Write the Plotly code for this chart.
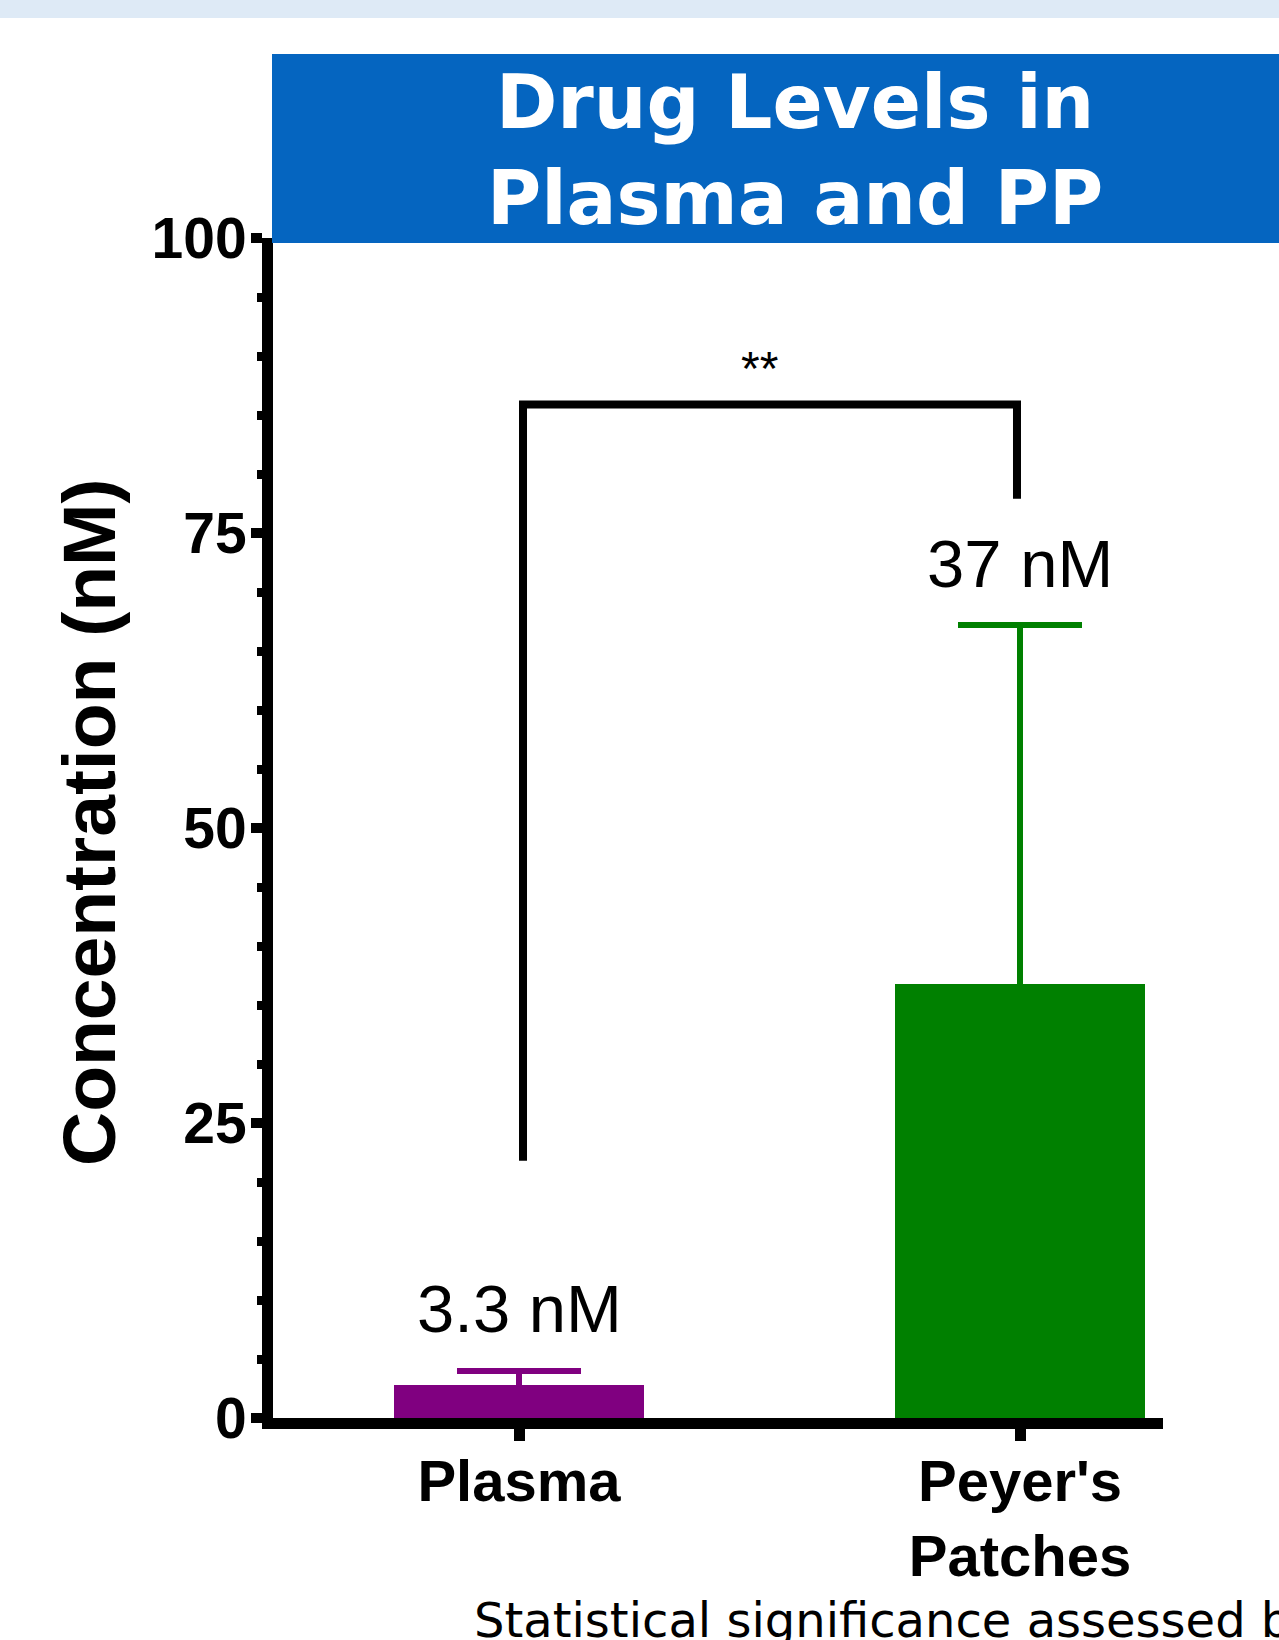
import plotly.graph_objects as go

# ---------------- data ----------------
categories = ["Plasma", "Peyer's<br>Patches"]
cat_pos = [0, 1]
conc_mean = [2.8, 36.8]          # nM (bar heights)
conc_err_up = [1.2, 30.4]        # upper error (SD)
bar_colors = ["#800080", "#008000"]
bar_labels = ["3.3 nM", "37 nM"]
label_y = [9.3, 72.4]

sig_text = "**"
sig_x = [0.008, 0.994]           # bracket ends (category units)
sig_y_low = [21.8, 77.9]         # bottom of left/right legs
sig_y_top = 85.9

y_ticks = [0, 25, 50, 75, 100]
y_title = "Concentration (nM)"

title_lines = "Drug Levels in<br>Plasma and PP"
footer_text = "Statistical significance assessed by"

# ---------------- layout geometry ----------------
W, H = 1279, 1640
ML, MR, MT, MB = 273, 116, 238, 222
PW = W - ML - MR
PH = H - MT - MB


def px_x(px):
    return (px - ML) / PW


def px_y(py):
    return (H - MB - py) / PH


fig = go.Figure()

for i in range(len(categories)):
    fig.add_trace(go.Bar(
        x=[cat_pos[i]], y=[conc_mean[i]], width=0.5,
        marker=dict(color=bar_colors[i], line=dict(width=0)),
        # lower whisker runs hidden inside the bar (one-sided error bar look)
        error_y=dict(type="data", symmetric=False, array=[conc_err_up[i]],
                     arrayminus=[conc_mean[i]], color=bar_colors[i],
                     thickness=6, width=62),
        showlegend=False, hoverinfo="skip",
    ))

# value labels
for i in range(len(categories)):
    fig.add_annotation(x=cat_pos[i], y=label_y[i], xref="x", yref="y",
                       text=bar_labels[i], showarrow=False,
                       xanchor="center", yanchor="middle",
                       font=dict(family="Liberation Sans", size=67, color="black"))

# significance bracket
fig.add_shape(type="path", xref="x", yref="y",
              path=(f"M {sig_x[0]},{sig_y_low[0]} L {sig_x[0]},{sig_y_top} "
                    f"L {sig_x[1]},{sig_y_top} L {sig_x[1]},{sig_y_low[1]}"),
              line=dict(color="black", width=8))
fig.add_annotation(x=(sig_x[0] + sig_x[1]) / 2 - 0.02, y=88.9, xref="x", yref="y",
                   text=sig_text, showarrow=False, xanchor="center", yanchor="middle",
                   font=dict(family="Liberation Sans", size=48, color="black"))

# top light strip (slide background fragment)
fig.add_shape(type="rect", xref="paper", yref="paper", layer="below",
              x0=px_x(-5), x1=px_x(W + 5), y0=px_y(18), y1=px_y(-5),
              fillcolor="#DEEAF6", line=dict(width=0))

# blue title banner
fig.add_shape(type="rect", xref="paper", yref="paper",
              x0=px_x(272), x1=px_x(W + 5), y0=px_y(243), y1=px_y(54),
              fillcolor="#0565C0", line=dict(width=0))
fig.add_annotation(x=px_x(795), y=px_y(150), xref="paper", yref="paper",
                   text=title_lines, showarrow=False, xanchor="center", yanchor="middle",
                   align="center",
                   font=dict(family="DejaVu Sans", size=74, color="white", weight="bold"))

# y-axis title
fig.add_annotation(x=px_x(89), y=px_y(823), xref="paper", yref="paper",
                   text=y_title, showarrow=False, textangle=-90,
                   xanchor="center", yanchor="middle",
                   font=dict(family="Liberation Sans", size=75, color="black", weight="bold"))

# footer text (cut by right edge as in the original slide)
fig.add_annotation(x=px_x(472), y=px_y(1620), xref="paper", yref="paper",
                   text=footer_text, showarrow=False, xanchor="left", yanchor="middle",
                   font=dict(family="DejaVu Sans", size=48, color="black"))

fig.update_layout(
    width=W, height=H,
    margin=dict(l=ML, r=MR, t=MT, b=MB, pad=0),
    paper_bgcolor="white", plot_bgcolor="white",
    bargap=0,
    xaxis=dict(
        range=[(ML - 519) / 501, (ML + PW - 519) / 501],
        tickmode="array", tickvals=cat_pos, ticktext=categories,
        showline=True, linecolor="black", linewidth=11,
        ticks="outside", ticklen=12, tickwidth=11, tickcolor="black",
        ticklabelstandoff=-10,
        tickfont=dict(family="Liberation Sans", size=58, color="black", weight="bold"),
        showgrid=False, zeroline=False, fixedrange=True,
    ),
    yaxis=dict(
        range=[0, 100], tickmode="array", tickvals=y_ticks,
        showline=True, linecolor="black", linewidth=11,
        ticks="outside", ticklen=11, tickwidth=10, tickcolor="black",
        ticklabelstandoff=-7,
        minor=dict(dtick=5, tick0=0, ticks="outside", ticklen=5, tickwidth=9,
                   tickcolor="black", showgrid=False),
        tickfont=dict(family="Liberation Sans", size=57, color="black", weight="bold"),
        showgrid=False, zeroline=False, fixedrange=True, automargin=False,
    ),
)

fig.write_html("out.html",
               config={"displayModeBar": False},
               post_script="document.body.style.margin='0px';"
                           "document.body.style.overflow='hidden';")
